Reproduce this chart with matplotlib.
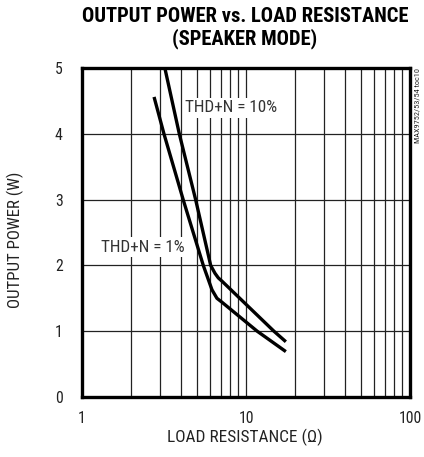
import matplotlib
matplotlib.use("Agg")
import matplotlib.pyplot as plt
from matplotlib import font_manager

# ---- font choice: prefer a narrow / condensed sans ----
fl = font_manager.fontManager.ttflist
names = {f.name for f in fl}
fam, stretch = 'DejaVu Sans', 'normal'
for c in ['Liberation Sans Narrow', 'Roboto Condensed', 'Open Sans Condensed', 'Noto Sans Condensed']:
    if c in names:
        fam = c
        break
else:
    for pref in ['Roboto', 'DejaVu Sans', 'Noto Sans', 'Open Sans']:
        if any(f.name == pref and (f.stretch in ('condensed', 'semi-condensed') or 'ondensed' in f.fname) for f in fl):
            fam, stretch = pref, 'condensed'
            break
plt.rcParams['font.family'] = [fam, 'DejaVu Sans']
plt.rcParams['font.stretch'] = stretch

# ---- data ----
r_10 = [3.20, 3.92, 4.93, 6.09, 6.47, 6.78, 7.14, 14.8, 17.5]
p_10 = [5.0, 4.0, 3.0, 2.0, 1.88, 1.81, 1.76, 1.0, 0.84]
r_1 = [2.75, 3.16, 4.15, 5.49, 6.2, 6.65, 7.14, 11.7, 17.5]
p_1 = [4.56, 4.0, 2.99, 2.0, 1.63, 1.50, 1.44, 1.0, 0.69]
x_ticks = [1, 10, 100]
y_ticks = [0, 1, 2, 3, 4, 5]

W, H = 424, 457
fig = plt.figure(figsize=(W / 100, H / 100), dpi=100)
ax = fig.add_axes([82 / W, 1 - 397 / H, (410 - 82) / W, (397 - 68) / H])
ax.set_xscale('log')
ax.set_xlim(1, 100)
ax.set_ylim(0, 5)

ax.plot(r_10, p_10, color='black', lw=2.4, solid_capstyle='butt', solid_joinstyle='round', zorder=3)
ax.plot(r_1, p_1, color='black', lw=2.4, solid_capstyle='butt', solid_joinstyle='round', zorder=3)

renderer = fig.canvas.get_renderer()


def fit(t, target, vertical=False):
    bb = t.get_window_extent(renderer)
    w = bb.height if vertical else bb.width
    t.set_fontsize(t.get_fontsize() * target / w)
    return t


# tick label size from the width of "100" (~23 px in the reference)
probe = fig.text(0, 0, '100', fontsize=12)
fit(probe, 23)
tick_fs = probe.get_fontsize()
probe.remove()

ax.set_xticks(x_ticks)
ax.set_xticklabels([str(t) for t in x_ticks])
ax.set_yticks(y_ticks)
ax.set_yticklabels([str(t) for t in y_ticks])
ax.xaxis.set_minor_formatter(matplotlib.ticker.NullFormatter())
ax.tick_params(which='both', length=0, labelsize=tick_fs, colors='#222222')
ax.tick_params(axis='x', pad=10)
ax.tick_params(axis='y', pad=14)
ax.grid(True, which='both', axis='x', color='#222222', lw=0.9)
ax.grid(True, which='major', axis='y', color='#222222', lw=0.9)
for s in ax.spines.values():
    s.set_linewidth(2.4)

txt = '#222222'
xl = fig.text(245 / W, 1 - 437 / H, 'LOAD RESISTANCE (Ω)', ha='center', va='center', color=txt, fontsize=12)
fit(xl, 154)
yl = fig.text(15 / W, 1 - 240 / H, 'OUTPUT POWER (W)', ha='center', va='center', rotation=90, color=txt, fontsize=12)
fit(yl, 136, vertical=True)

t1 = fig.text(245 / W, 1 - 16 / H, 'OUTPUT POWER vs. LOAD RESISTANCE', ha='center', va='center',
              fontweight='bold', fontsize=14)
fit(t1, 329)
t2 = fig.text(245 / W, 1 - 39 / H, '(SPEAKER MODE)', ha='center', va='center',
              fontweight='bold', fontsize=t1.get_fontsize())

a1 = ax.text(185 / W, 1 - 108 / H, 'THD+N = 10%', transform=fig.transFigure, color='#333333',
             va='center', ha='left', fontsize=11,
             bbox=dict(facecolor='white', edgecolor='none', pad=1.5), zorder=2)
fit(a1, 92)
a2 = ax.text(101 / W, 1 - 247 / H, 'THD+N = 1%', transform=fig.transFigure, color='#333333',
             va='center', ha='left', fontsize=11,
             bbox=dict(facecolor='white', edgecolor='none', pad=1.5), zorder=2)
a2.set_fontsize(a1.get_fontsize())

sd = fig.text(418 / W, 1 - 68 / H, 'MAX9752/53/54 toc10', rotation=90, fontsize=7,
              ha='center', va='top', color='#222222')
fit(sd, 75, vertical=True)

fig.savefig('out.png', dpi=100)
